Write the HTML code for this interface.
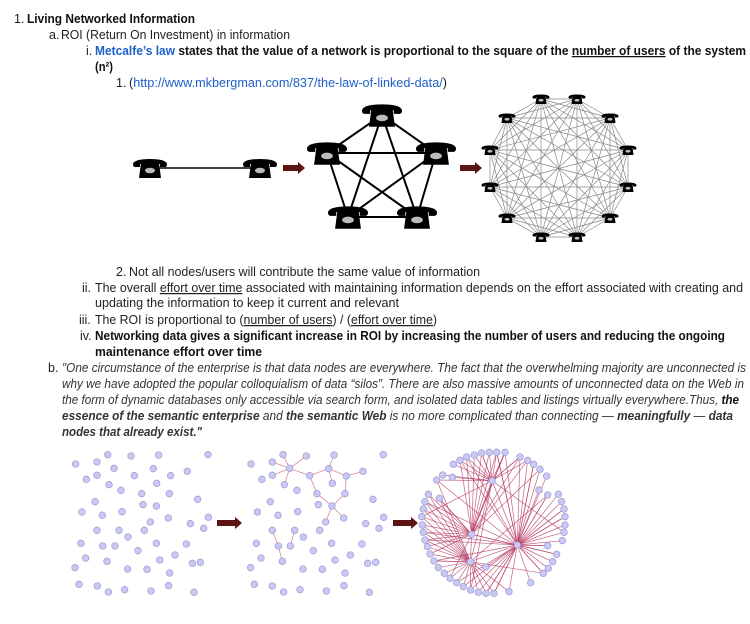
<!DOCTYPE html>
<html><head><meta charset="utf-8">
<style>
html,body{margin:0;padding:0;background:#fff;}
svg{display:block;}
text{font-family:"Liberation Sans",sans-serif;font-size:12.5px;fill:#222;}
.b{font-weight:bold;fill:#111;}
.l{fill:#1f5fc8;}
.u{text-decoration:underline;}
.i{font-style:italic;fill:#333;}
</style></head>
<body>
<svg id="s" width="750" height="624" viewBox="0 0 750 624" xmlns="http://www.w3.org/2000/svg" xmlns:xlink="http://www.w3.org/1999/xlink">
<defs>
<symbol id="ph" viewBox="0 0 34 20">
<path d="M2,9 Q0,9 0,6 Q1,1 17,1 Q33,1 34,6 Q34,9 32,9 L27,9 L27,6 L7,6 L7,9 Z" fill="#000"/>
<path d="M8,5 L26,5 L28,20 L6,20 Z" fill="#000"/>
<ellipse cx="17" cy="12.5" rx="5" ry="2.8" fill="#bbb"/>
</symbol>
</defs>

<text x="14" y="23">1.</text>
<text x="27" y="23" class="b" textLength="168" lengthAdjust="spacingAndGlyphs">Living Networked Information</text>
<text x="49" y="39">a.</text>
<text x="61" y="39" textLength="229" lengthAdjust="spacingAndGlyphs">ROI (Return On Investment) in information</text>
<text x="86" y="55">i.</text>
<text x="95" y="55" textLength="651" lengthAdjust="spacingAndGlyphs"><tspan class="l b" style="fill:#1f5fc8">Metcalfe’s law</tspan><tspan class="b"> states that the value of a network is proportional to the square of the </tspan><tspan class="b u">number of users</tspan><tspan class="b"> of the system</tspan></text>
<text x="95" y="71" class="b" textLength="18" lengthAdjust="spacingAndGlyphs">(n²)</text>
<text x="116" y="87">1.</text>
<text x="129" y="87" textLength="318" lengthAdjust="spacingAndGlyphs">(<tspan class="l">http://www.mkbergman.com/837/the-law-of-linked-data/</tspan>)</text>

<text x="116" y="276">2.</text>
<text x="129" y="276" textLength="351" lengthAdjust="spacingAndGlyphs">Not all nodes/users will contribute the same value of information</text>
<text x="82" y="292">ii.</text>
<text x="95" y="292" textLength="648" lengthAdjust="spacingAndGlyphs">The overall <tspan class="u">effort over time</tspan> associated with maintaining information depends on the effort associated with creating and</text>
<text x="95" y="307" textLength="304" lengthAdjust="spacingAndGlyphs">updating the information to keep it current and relevant</text>
<text x="79" y="324">iii.</text>
<text x="95" y="324" textLength="342" lengthAdjust="spacingAndGlyphs">The ROI is proportional to (<tspan class="u">number of users</tspan>) / (<tspan class="u">effort over time</tspan>)</text>
<text x="80" y="340">iv.</text>
<text x="95" y="340" class="b" textLength="630" lengthAdjust="spacingAndGlyphs">Networking data gives a significant increase in ROI by increasing the number of users and reducing the ongoing</text>
<text x="95" y="356" class="b" textLength="167" lengthAdjust="spacingAndGlyphs">maintenance effort over time</text>
<text x="48" y="372">b.</text>
<text x="62" y="372" class="i" textLength="684" lengthAdjust="spacingAndGlyphs">"One circumstance of the enterprise is that data nodes are everywhere. The fact that the overwhelming majority are unconnected is</text>
<text x="62" y="388" class="i" textLength="682" lengthAdjust="spacingAndGlyphs">why we have adopted the popular colloquialism of data “silos”. There are also massive amounts of unconnected data on the Web in</text>
<text x="62" y="404" class="i" textLength="677" lengthAdjust="spacingAndGlyphs">the form of dynamic databases only accessible via search form, and isolated data tables and listings virtually everywhere.Thus, <tspan class="b">the</tspan></text>
<text x="62" y="420" class="i b" textLength="671" lengthAdjust="spacingAndGlyphs">essence of the semantic enterprise <tspan style="font-weight:normal">and</tspan> the semantic Web <tspan style="font-weight:normal">is no more complicated than connecting —</tspan> meaningfully <tspan style="font-weight:normal">—</tspan> data</text>
<text x="62" y="436" class="i b" textLength="140" lengthAdjust="spacingAndGlyphs">nodes that already exist."</text>

<g id="gtop"></g>
<g id="gbot"></g>
</svg>
<script>
(function(){
var NS="http://www.w3.org/2000/svg";
function el(p,t,a){var e=document.createElementNS(NS,t);for(var k in a)e.setAttribute(k,a[k]);p.appendChild(e);return e;}
var gT=document.getElementById("gtop"),gB=document.getElementById("gbot");
function phone(cx,cy,w,h){var u=document.createElementNS(NS,"use");u.setAttribute("x",cx-w/2);u.setAttribute("y",cy-h/2);u.setAttribute("width",w);u.setAttribute("height",h);u.setAttribute("href","#ph");u.setAttributeNS("http://www.w3.org/1999/xlink","xlink:href","#ph");gT.appendChild(u);}
function arrow(g,x1,x2,y){el(g,"path",{d:"M"+x1+","+(y-3)+"L"+(x2-7)+","+(y-3)+"L"+(x2-7)+","+(y-6)+"L"+x2+","+y+"L"+(x2-7)+","+(y+6)+"L"+(x2-7)+","+(y+3)+"L"+x1+","+(y+3)+"Z",fill:"#5a1414"});}
el(gT,"line",{x1:150,y1:168,x2:260,y2:168,stroke:"#000","stroke-width":1.5});
phone(150,168,34,20);phone(260,168,34,20);
arrow(gT,283,305,168);
var P=[[382,115],[436,153],[417,217],[348,217],[327,153]];
for(var i=0;i<5;i++)for(var j=i+1;j<5;j++)el(gT,"line",{x1:P[i][0],y1:P[i][1],x2:P[j][0],y2:P[j][1],stroke:"#000","stroke-width":2});
P.forEach(function(p){phone(p[0],p[1],40,24);});
arrow(gT,460,482,168);
var C=[[541,99],[577,99],[610,118],[628,150],[628,187],[610,218],[577,237],[541,237],[507,218],[490,187],[490,150],[507,118]];
for(var i=0;i<12;i++)for(var j=i+1;j<12;j++)el(gT,"line",{x1:C[i][0],y1:C[i][1],x2:C[j][0],y2:C[j][1],stroke:"#888","stroke-width":0.7});
C.forEach(function(p){phone(p[0],p[1],17,11);});

var D1=[[47,72],[143,44],[213,48],[296,45],[444,44],[111,66],[162,85],[280,86],[382,94],[79,118],[111,106],[223,107],[332,107],[147,134],[290,130],[183,151],[245,161],[328,161],[105,185],[413,178],[249,194],[289,198],[66,216],[127,226],[186,215],[325,234],[445,232],[271,246],[391,251],[431,265],[111,271],[177,271],[253,271],[204,291],[63,310],[128,318],[165,318],[289,310],[379,312],[234,332],[77,354],[141,364],[299,360],[345,345],[397,370],[421,367],[45,383],[203,387],[261,388],[329,399],[57,433],[112,438],[145,456],[194,449],[273,453],[326,437],[402,457]];
var D2=[[573,72],[669,44],[739,48],[822,45],[970,44],[637,66],[689,85],[806,86],[909,94],[606,118],[637,106],[749,107],[859,108],[673,134],[817,130],[711,151],[771,161],[855,161],[631,185],[939,178],[775,194],[816,198],[592,216],[654,226],[713,215],[851,234],[971,232],[797,246],[917,251],[957,265],[637,271],[704,271],[779,271],[730,291],[589,310],[655,318],[691,318],[815,310],[906,312],[760,332],[603,354],[667,364],[825,360],[871,345],[923,370],[947,367],[572,383],[729,387],[787,388],[855,399],[583,433],[637,438],[671,456],[720,449],[799,453],[852,437],[928,457]];
var E2=[[689,85,637,66],[689,85,637,106],[689,85,669,44],[689,85,739,48],[689,85,673,134],[689,85,749,107],[749,107,806,86],[749,107,771,161],[806,86,822,45],[806,86,817,130],[806,86,859,108],[859,108,909,94],[859,108,855,161],[855,161,816,198],[771,161,816,198],[816,198,797,246],[816,198,851,234],[637,271,655,318],[655,318,667,364],[704,271,691,318]];
function tx(x){return 60+x/3;}function ty(y){return 440+y/3;}
E2.forEach(function(e){el(gB,"line",{x1:tx(e[0]),y1:ty(e[1]),x2:tx(e[2]),y2:ty(e[3]),stroke:"#d98a9a","stroke-width":0.8});});
function dot(x,y){el(gB,"circle",{cx:x,cy:y,r:3.3,fill:"#c9c9f4",stroke:"#9a9ad2","stroke-width":0.7});}
D1.concat(D2).forEach(function(d){dot(tx(d[0]),ty(d[1]));});
arrow(gB,217,242,523);
arrow(gB,393,418,523);
function ux(x){return 415+x/3;}function uy(y){return 445+y/3;}
var H=[[231,107],[170,268],[166,350],[307,300]];
var R=[[270,22],[245,22],[223,22],[200,24],[178,30],[155,36],[135,46],[115,58],[83,90],[65,105],[112,97],[40,148],[73,160],[30,170],[25,192],[20,215],[22,240],[25,262],[30,285],[37,305],[45,327],[57,348],[70,368],[88,385],[105,400],[125,413],[145,425],[167,435],[190,442],[213,445],[237,445],[282,440],[347,413],[385,385],[400,370],[413,350],[425,328],[398,302],[442,287],[447,262],[450,240],[450,215],[447,192],[440,170],[430,148],[398,150],[372,135],[395,93],[375,73],[356,58],[338,46],[315,36],[212,366]];
var g3=el(gB,"g",{stroke:"#b3305a","stroke-width":0.7,"stroke-opacity":0.75});
R.forEach(function(p,i){
 var a=Math.atan2(p[1]-240,p[0]-240)*180/Math.PI;var hs=[];
 if(a<-60&&a>-150)hs.push(0);
 if(a<=-150||a>150||(a<-60&&a>-120))hs.push(1);
 if(a>60&&a<=180||(a<-150))hs.push(2);
 if(a>-90&&a<120)hs.push(3);
 if(i%3==0)hs.push((i+1)%4);
 if(i%4==1)hs.push((i+2)%4);
 hs.forEach(function(h){el(g3,"line",{x1:ux(p[0]),y1:uy(p[1]),x2:ux(H[h][0]),y2:uy(H[h][1])});});
});
for(var i=0;i<4;i++)for(var j=i+1;j<4;j++)el(g3,"line",{x1:ux(H[i][0]),y1:uy(H[i][1]),x2:ux(H[j][0]),y2:uy(H[j][1])});
R.concat(H).forEach(function(p){dot(ux(p[0]),uy(p[1]));});
})();
</script>
</body></html>
